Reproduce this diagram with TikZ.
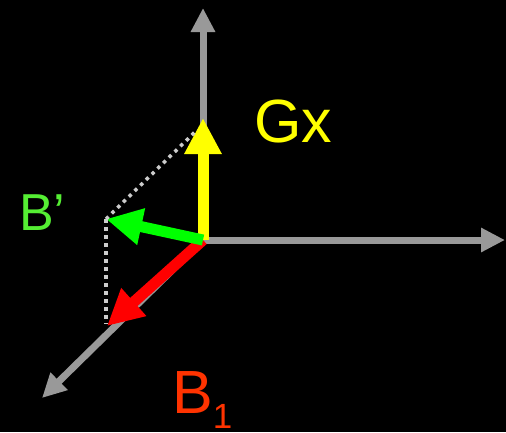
\documentclass[tikz,border=0pt]{standalone}
\usepackage{fontspec}
\setmainfont{Liberation Sans}
\usetikzlibrary{arrows.meta}
\definecolor{axisgray}{HTML}{999999}
\definecolor{dotgray}{HTML}{CCCCCC}
\definecolor{gxyellow}{HTML}{FFFF00}
\definecolor{bgreen}{HTML}{00FF00}
\definecolor{blabelgreen}{HTML}{55EE33}
\definecolor{bred}{HTML}{FF0000}
\definecolor{blabelred}{HTML}{FF3300}
\tikzset{
  axis/.style={draw=axisgray, line width=7bp, -{Triangle[length=24bp,width=23bp]}},
  vec/.style={line width=11bp, -{Triangle[length=36bp,width=35bp]}},
  helper/.style={draw=dotgray, line width=3.5bp, dash pattern=on 3.5bp off 4.5bp},
  lbl/.style={inner sep=0pt, anchor=base west}
}
\begin{document}
\begin{tikzpicture}[x=1bp,y=-1bp]
\fill[black] (0,0) rectangle (506,432);
\useasboundingbox (0,0) rectangle (506,432);
\coordinate (O) at (203,240);
\coordinate (Ytip) at (203,8);
\coordinate (Xtip) at (505,240);
\coordinate (Ztip) at (42,398);
\coordinate (G) at (203,118);
\coordinate (Bp) at (106,219);
\coordinate (B1) at (107,326);
\coordinate (Top) at (196,131);
\coordinate (Bot) at (106,324);
\draw[axis] (O) -- (Ytip);
\draw[axis] (O) -- (Xtip);
\draw[axis] (O) -- (Ztip);
\draw[vec, gxyellow] (O) -- (G);
\draw[vec, bred] (O) -- (B1);
\draw[vec, bgreen] (O) -- (Bp);
\draw[helper] (Bp) -- (Top);
\draw[helper] (Bp) -- (Bot);
\node[lbl, text=gxyellow, font=\fontsize{61bp}{61bp}\selectfont] (gx) at (254,142) {Gx};
\node[lbl, text=blabelgreen, font=\fontsize{52bp}{52bp}\selectfont] (bplabel) at (19,230) {B’};
\node[lbl, text=blabelred, font=\fontsize{61bp}{61bp}\selectfont] (b1label) at (172,413) {B\raisebox{-15bp}{\fontsize{35bp}{35bp}\selectfont 1}};
\end{tikzpicture}
\end{document}
